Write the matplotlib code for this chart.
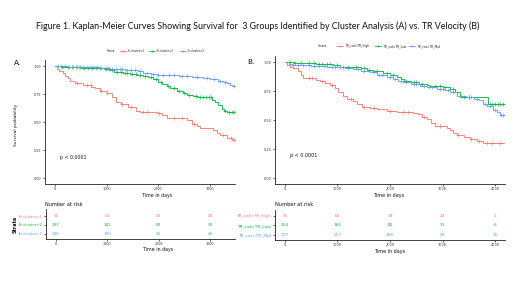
import numpy as np
import matplotlib
matplotlib.use("Agg")
import matplotlib.pyplot as plt
from matplotlib.lines import Line2D

# ---------------- data ----------------
colors = ["#F8766D", "#00BA38", "#619CFF"]

strata_a = ["fit.cluster=1", "fit.cluster=2", "fit.cluster=3"]
strata_b = ["TR_cat=TR_high", "TR_cat=TR_Low", "TR_cat=TR_Mid"]

a1_t = [0, 30, 80, 150, 200, 250, 290, 390, 550, 700, 775, 870, 1000, 1100, 1190, 1280, 1420, 1560, 1645, 1970, 2065, 2160, 2420, 2550, 2645, 2740, 2800, 3065, 3130, 3190, 3320, 3420]
a1_s = [1.0, 0.97, 0.955, 0.94, 0.91, 0.89, 0.87, 0.85, 0.83, 0.81, 0.80, 0.78, 0.76, 0.72, 0.68, 0.66, 0.63, 0.60, 0.59, 0.58, 0.56, 0.54, 0.535, 0.52, 0.48, 0.46, 0.445, 0.43, 0.40, 0.38, 0.36, 0.34]
a1_c = [420, 620, 690, 900, 1010, 1300, 1480, 1700, 1780, 2010, 2300, 2450, 2700, 3250, 3400, 3470]

a2_t = [0, 120, 230, 500, 870, 950, 1065, 1150, 1320, 1450, 1580, 1710, 1800, 1900, 2000, 2080, 2160, 2230, 2355, 2480, 2560, 2680, 2770, 3040, 3100, 3160, 3225, 3280, 3320]
a2_s = [1.0, 0.995, 0.99, 0.985, 0.98, 0.97, 0.96, 0.95, 0.94, 0.93, 0.92, 0.91, 0.90, 0.88, 0.86, 0.84, 0.82, 0.80, 0.78, 0.76, 0.74, 0.73, 0.72, 0.70, 0.68, 0.65, 0.62, 0.60, 0.59]
a2_c = [130, 260, 330, 400, 480, 560, 640, 720, 800, 880, 980, 1040, 1110, 1200, 1280, 1360, 1400, 1500, 1560, 1650, 1750, 1850, 1950, 2050, 2190, 2300, 2400, 2500, 2600, 2720, 2800, 2860, 2920, 2980, 3020, 3300, 3360, 3420, 3460]

a3_t = [0, 250, 500, 870, 1065, 1350, 1600, 1710, 1850, 1970, 2400, 2650, 2870, 3000, 3150, 3250, 3320, 3380, 3420]
a3_s = [1.0, 0.995, 0.99, 0.98, 0.975, 0.965, 0.955, 0.94, 0.93, 0.92, 0.915, 0.905, 0.895, 0.88, 0.87, 0.86, 0.85, 0.83, 0.82]
a3_c = [60, 120, 200, 280, 350, 420, 470, 550, 620, 700, 760, 820, 900, 960, 1020, 1100, 1180, 1250, 1300, 1400, 1480, 1550, 1650, 1780, 1900, 2000, 2100, 2200, 2300, 2450, 2550, 2750, 2950, 3080, 3200, 3300, 3460]

b1_t = [0, 40, 95, 150, 250, 300, 350, 600, 670, 760, 860, 950, 1010, 1100, 1175, 1300, 1365, 1460, 1620, 1750, 1940, 2130, 2440, 2540, 2600, 2700, 2790, 2850, 3080, 3140, 3205, 3270, 3400, 3530, 3650, 3780]
b1_s = [1.0, 0.97, 0.955, 0.945, 0.92, 0.89, 0.865, 0.845, 0.835, 0.82, 0.80, 0.78, 0.745, 0.71, 0.68, 0.665, 0.64, 0.615, 0.605, 0.595, 0.58, 0.565, 0.56, 0.55, 0.53, 0.505, 0.475, 0.45, 0.435, 0.415, 0.39, 0.37, 0.35, 0.335, 0.32, 0.305]
b1_c = [450, 520, 700, 900, 1250, 1500, 1700, 2000, 2250, 2350, 2650, 2950, 3300, 3550, 3700, 3850, 3950, 4100]

b2_t = [0, 180, 400, 600, 760, 920, 1050, 1300, 1450, 1555, 1680, 1870, 2000, 2130, 2200, 2260, 2400, 2560, 2700, 2760, 3015, 3140, 3230, 3330, 3870]
b2_s = [1.0, 0.995, 0.99, 0.985, 0.98, 0.97, 0.96, 0.955, 0.945, 0.935, 0.92, 0.905, 0.89, 0.87, 0.85, 0.835, 0.825, 0.81, 0.80, 0.79, 0.785, 0.765, 0.74, 0.70, 0.635]
b2_c = [100, 200, 300, 450, 550, 650, 700, 800, 850, 1000, 1100, 1200, 1350, 1500, 1600, 1750, 1950, 2050, 2300, 2450, 2500, 2600, 2850, 2950, 3050, 3200, 3400, 3500, 3900, 3950, 4000, 4050, 4100, 4150]

b3_t = [0, 80, 130, 300, 500, 800, 1000, 1150, 1300, 1450, 1620, 1750, 1937, 2050, 2150, 2250, 2400, 2570, 2700, 2890, 3050, 3150, 3270, 3450, 3600, 3700, 3775, 3850, 3965, 4030, 4095]
b3_s = [1.0, 0.985, 0.975, 0.97, 0.965, 0.96, 0.955, 0.945, 0.937, 0.925, 0.91, 0.89, 0.87, 0.855, 0.84, 0.825, 0.81, 0.795, 0.785, 0.765, 0.755, 0.74, 0.71, 0.70, 0.685, 0.675, 0.64, 0.62, 0.59, 0.565, 0.54]
b3_c = [150, 250, 350, 450, 550, 650, 750, 900, 950, 1050, 1200, 1400, 1500, 1700, 1800, 1850, 2000, 2100, 2200, 2300, 2450, 2500, 2650, 2750, 2800, 2950, 3000, 3100, 3200, 3350, 3500, 3550, 3650, 3800, 3900, 4000, 4120, 4160]

end_a = 3480
end_b = 4190

risk_times_a = [0, 1000, 2000, 3000]
risk_a = [[91, 54, 33, 20], [197, 142, 83, 33], [238, 150, 92, 49]]
risk_times_b = [0, 1000, 2000, 3000, 4000]
risk_b = [[95, 63, 39, 22, 5], [254, 161, 85, 31, 6], [217, 157, 108, 59, 15]]

yticks = [0, 0.25, 0.5, 0.75, 1.0]
ytick_labels = ["0.00", "0.25", "0.50", "0.75", "1.00"]

title = "Figure 1. Kaplan-Meier Curves Showing Survival for  3 Groups Identified by Cluster Analysis (A) vs. TR Velocity (B)"

# ---------------- layout helpers ----------------
W, H = 520, 292
fig = plt.figure(figsize=(W / 100, H / 100), dpi=100)
fig.patch.set_facecolor("white")

def rect(x0, y0, x1, y1):
    return [x0 / W, 1 - y1 / H, (x1 - x0) / W, (y1 - y0) / H]

def fx(x):
    return x / W

def fy(y):
    return 1 - y / H

AX_COL = "#222222"
TXT = "#333333"

def style(ax, fs):
    for s in ["top", "right"]:
        ax.spines[s].set_visible(False)
    for s in ["left", "bottom"]:
        ax.spines[s].set_linewidth(0.6)
        ax.spines[s].set_color(AX_COL)
    ax.tick_params(length=1.5, width=0.5, color=AX_COL, labelsize=fs,
                   labelcolor=TXT, pad=1)
    ax.set_facecolor("white")

def km(ax, t, s, c, end, col):
    tt = list(t) + [end]
    ss = list(s) + [s[-1]]
    ax.step(tt, ss, where="post", color=col, lw=0.7, alpha=0.9)
    idx = np.searchsorted(np.array(t), np.array(c), side="right") - 1
    ax.plot(c, np.array(s)[idx], ls="none", marker="+", ms=2.2, mew=0.5,
            color=col, alpha=0.9)

# ---------------- title ----------------
fig.text(fx(258), fy(26), title, ha="center", va="center",
         fontsize=6.4, family="Lato", color="#111111")

# ---------------- panel A ----------------
axA = fig.add_axes(rect(45, 60.4, 235, 183.6))
style(axA, 2.4)
for t, s, c, col in [(a1_t, a1_s, a1_c, colors[0]), (a2_t, a2_s, a2_c, colors[1]),
                     (a3_t, a3_s, a3_c, colors[2])]:
    km(axA, t, s, c, end_a, col)
axA.set_xlim(-193, 3484)
axA.set_ylim(-0.05, 1.05)
axA.set_yticks(yticks)
axA.set_yticklabels(ytick_labels)
axA.set_xticks(risk_times_a)
axA.text(100, 0.18, "p < 0.0001", fontsize=3.4, color="#111111", va="center")
fig.text(fx(157), fy(195), "Time in days", ha="center", va="center", fontsize=3.4, color="#111111")
fig.text(fx(16), fy(125), "Survival probability", ha="center", va="center",
         rotation=90, fontsize=3.2, color="#111111")
fig.text(fx(14), fy(63), "A.", ha="left", va="center", fontsize=5.2, color="#111111")

# ---------------- panel B ----------------
axB = fig.add_axes(rect(275, 56.2, 505, 183.8))
style(axB, 2.5)
for t, s, c, col in [(b1_t, b1_s, b1_c, colors[0]), (b2_t, b2_s, b2_c, colors[1]),
                     (b3_t, b3_s, b3_c, colors[2])]:
    km(axB, t, s, c, end_b, col)
axB.set_xlim(-190, 4190)
axB.set_ylim(-0.05, 1.05)
axB.set_yticks(yticks)
axB.set_yticklabels(ytick_labels)
axB.set_xticks(risk_times_b)
axB.text(95, 0.19, "p < 0.0001", fontsize=3.5, color="#111111", va="center")
fig.text(fx(389), fy(196), "Time in days", ha="center", va="center", fontsize=3.5, color="#111111")
fig.text(fx(247), fy(62), "B.", ha="left", va="center", fontsize=5.2, color="#111111")

# ---------------- legends ----------------
def legend(y, x_strata, items, fs):
    fig.text(fx(x_strata), fy(y), "Strata", ha="left", va="center", fontsize=fs, color="#222222")
    for (xm, lab, col) in items:
        fig.add_artist(Line2D([fx(xm - 3), fx(xm + 3)], [fy(y), fy(y)], color=col, lw=0.6))
        fig.add_artist(Line2D([fx(xm)], [fy(y)], marker="+", ms=2, mew=0.5, color=col))
        fig.text(fx(xm + 5), fy(y), lab, ha="left", va="center", fontsize=fs, color="#222222")

legend(50.7, 107, [(123, strata_a[0], colors[0]), (152, strata_a[1], colors[1]),
                   (183, strata_a[2], colors[2])], 2.0)
legend(46.3, 318, [(340, strata_b[0], colors[0]), (378, strata_b[1], colors[1]),
                   (412, strata_b[2], colors[2])], 2.2)

# ---------------- risk tables ----------------
def risk_table(r, xlim, times, table, labels, fs_lab, fs_num, fs_tick, top, bottom):
    ax = fig.add_axes(r)
    style(ax, fs_tick)
    ax.set_xlim(*xlim)
    ax.set_ylim(bottom, top)
    for i, row in enumerate(table):
        for t, v in zip(times, row):
            ax.text(t, i, str(v), ha="center", va="center", fontsize=fs_num, color=colors[i])
    ax.set_yticks(range(len(labels)))
    ax.set_yticklabels(labels, fontsize=fs_lab)
    for lab, col in zip(ax.get_yticklabels(), colors):
        lab.set_color(col)
    ax.set_xticks(times)
    return ax

rtA = risk_table(rect(46, 209, 235, 239), (-193, 3484), risk_times_a, risk_a,
                 strata_a, 2.7, 3.0, 2.4, -0.78, 2.56)
fig.text(fx(45), fy(204), "Number at risk", ha="left", va="center", fontsize=3.6, color="#111111")
fig.text(fx(158), fy(250), "Time in days", ha="center", va="center", fontsize=3.4, color="#111111")
fig.text(fx(15), fy(224), "Strata", ha="center", va="center", rotation=90,
         fontsize=3.4, color="#111111", fontweight="bold")

rtB = risk_table(rect(275, 210, 505, 240), (-190, 4190), risk_times_b, risk_b,
                 strata_b, 3.1, 3.1, 2.5, -0.63, 2.53)
fig.text(fx(275), fy(205), "Number at risk", ha="left", va="center", fontsize=3.7, color="#111111")
fig.text(fx(390), fy(252), "Time in days", ha="center", va="center", fontsize=3.5, color="#111111")

fig.savefig("out.png", dpi=100, facecolor="white")
